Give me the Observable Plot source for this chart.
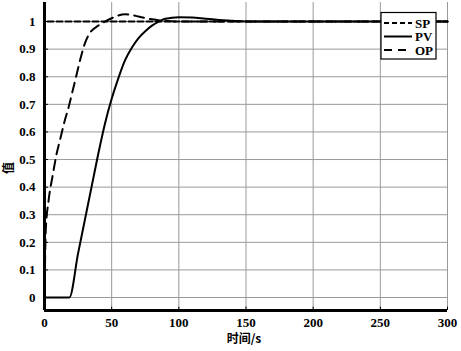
<!DOCTYPE html>
<html><head><meta charset="utf-8">
<script src="https://cdn.jsdelivr.net/npm/d3@7"></script>
<script src="https://cdn.jsdelivr.net/npm/@observablehq/plot@0.6"></script>
<style>
body{margin:0;background:#fff;}
#chart{position:relative;width:461px;height:351px;}
</style></head><body><div id="chart"></div>
<script>
// SP (setpoint)
const spT = [0, 0, 300];
const spV = [0, 1, 1];
// PV (process value)
const pvT = [0, 18.5, 25, 30, 35, 40, 45, 50, 55, 60, 65, 70, 75, 80, 85, 90, 100, 110, 120, 130, 140, 150, 300];
const pvV = [0, 0, 0.16, 0.28, 0.40, 0.52, 0.63, 0.72, 0.795, 0.86, 0.905, 0.94, 0.965, 0.985, 1.0, 1.01, 1.016, 1.015, 1.01, 1.006, 1.003, 1.0, 1.0];
// OP (controller output)
const opT = [0, 1, 3, 6, 9, 12, 15, 18, 21, 24, 27, 30, 34, 40, 45, 50, 55, 60, 65, 70, 80, 90, 100, 300];
const opV = [0, 0.25, 0.35, 0.44, 0.52, 0.58, 0.64, 0.69, 0.75, 0.81, 0.87, 0.92, 0.96, 0.985, 1.0, 1.012, 1.022, 1.026, 1.024, 1.018, 1.008, 1.002, 1.0, 1.0];
const xTicks = [0, 50, 100, 150, 200, 250, 300];
const yTicks = [0, 0.1, 0.2, 0.3, 0.4, 0.5, 0.6, 0.7, 0.8, 0.9, 1];
const yTickLabels = ["0", "0.1", "0.2", "0.3", "0.4", "0.5", "0.6", "0.7", "0.8", "0.9", "1"];
const seriesNames = ["SP", "PV", "OP"];
const xLabel = "时间/s";
const yLabel = "值";

const sp = spT.map((t, i) => ({t, v: spV[i]}));
const pv = pvT.map((t, i) => ({t, v: pvV[i]}));
const op = opT.map((t, i) => ({t, v: opV[i]}));
const yMin = -0.047, yMax = 1.069;

const serif = "'Liberation Serif','Times New Roman',serif";
const chart = Plot.plot({
  width: 461, height: 351,
  marginLeft: 44, marginRight: 14, marginTop: 2, marginBottom: 41,
  style: {fontFamily: serif, fontSize: "13px", fontWeight: "bold", color: "#000", background: "#fff"},
  x: {domain: [0, 300]},
  y: {domain: [yMin, yMax]},
  marks: [
    Plot.ruleX(xTicks, {stroke: "#999", strokeWidth: 1, y1: yMin, y2: yMax}),
    Plot.ruleY(yTicks, {stroke: "#999", strokeWidth: 1}),
    Plot.ruleY(yTicks, {x1: 0, x2: 3, stroke: "#000", strokeWidth: 1}),
    Plot.ruleX(xTicks, {y1: yMin, y2: yMin + 0.012, stroke: "#000", strokeWidth: 1}),
    Plot.axisX({ticks: xTicks, tickSize: 0, tickPadding: 7, label: null, fontWeight: "bold"}),
    Plot.axisY({ticks: yTicks, tickFormat: (d, i) => yTickLabels[i], tickSize: 0, tickPadding: 9, label: null, fontWeight: "bold"}),
    Plot.line(sp, {x: "t", y: "v", stroke: "#000", strokeWidth: 2, strokeDasharray: "6,3"}),
    Plot.line(pv, {x: "t", y: "v", stroke: "#000", strokeWidth: 2, curve: "monotone-x"}),
    Plot.line(op, {x: "t", y: "v", stroke: "#000", strokeWidth: 2, strokeDasharray: "10,6", curve: "monotone-x"}),
    Plot.ruleX([0], {stroke: "#000", strokeWidth: 3, y1: yMin, y2: yMax}),
    Plot.ruleY([yMin], {stroke: "#000", strokeWidth: 3})
  ]
});
const div = document.getElementById("chart");
div.appendChild(chart);

const svg = d3.select(chart);
// legend
const lg = svg.append("g").attr("text-anchor", "start");
lg.append("rect").attr("x", 381).attr("y", 12.5).attr("width", 55).attr("height", 46.5)
  .attr("fill", "#fff").attr("stroke", "#000").attr("stroke-width", 1.2);
const dashes = ["5,3", null, "8,6"];
const ys = [23, 36.5, 50];
seriesNames.forEach((name, i) => {
  const l = lg.append("line").attr("x1", 384).attr("x2", 412).attr("y1", ys[i]).attr("y2", ys[i])
    .attr("stroke", "#000").attr("stroke-width", 2);
  if (dashes[i]) l.attr("stroke-dasharray", dashes[i]);
  lg.append("text").attr("x", 415).attr("y", ys[i]).attr("dy", "0.35em").attr("text-anchor", "start")
    .attr("font-family", serif).attr("font-size", 13).attr("font-weight", "bold").text(name);
});
// axis labels
svg.append("text").attr("x", 244).attr("y", 343).attr("text-anchor", "middle")
  .attr("font-family", "'Noto Sans CJK SC',sans-serif").attr("font-size", 12).attr("font-weight", "bold").text(xLabel);
svg.append("text").attr("transform", "translate(13,168) rotate(-90)").attr("text-anchor", "middle")
  .attr("font-family", "'Noto Sans CJK SC',sans-serif").attr("font-size", 12).attr("font-weight", "bold").text(yLabel);
</script></body></html>
